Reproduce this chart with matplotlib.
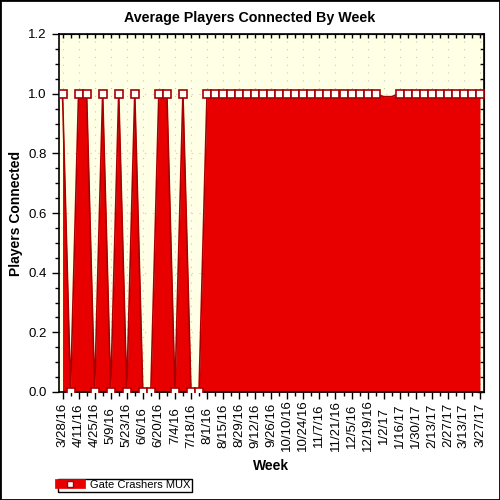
import matplotlib
matplotlib.use("Agg")
import matplotlib.pyplot as plt
from matplotlib.lines import Line2D
from matplotlib.patches import Rectangle
from matplotlib.ticker import MultipleLocator

plt.rcParams['font.family'] = ['Liberation Sans', 'DejaVu Sans']

# weekly values, 3/28/16 .. 3/27/17
weeks = list(range(53))
players = [1, 0, 1, 1, 0, 1, 0, 1, 0, 1,
           0, 0, 1, 1, 0, 1, 0, 0, 1, 1,
           1, 1, 1, 1, 1, 1, 1, 1, 1, 1,
           1, 1, 1, 1, 1, 1, 1, 1, 1, 1,
           0.99, 0.99, 1, 1, 1, 1, 1, 1, 1, 1,
           1, 1, 1]
no_marker = [40, 41]
week_labels = ['3/28/16', '4/11/16', '4/25/16', '5/9/16', '5/23/16', '6/6/16',
               '6/20/16', '7/4/16', '7/18/16', '8/1/16', '8/15/16', '8/29/16',
               '9/12/16', '9/26/16', '10/10/16', '10/24/16', '11/7/16',
               '11/21/16', '12/5/16', '12/19/16', '1/2/17', '1/16/17',
               '1/30/17', '2/13/17', '2/27/17', '3/13/17', '3/27/17']
series_name = 'Gate Crashers MUX'

fill_red = '#E80000'
dark_red = '#A80000'

fig = plt.figure(figsize=(5, 5), dpi=100)
ax = fig.add_axes([0.117, 0.216, 0.851, 0.716])
ax.set_facecolor('#FFFFE6')

ax.fill_between(weeks, 0, players, color=fill_red, linewidth=0, zorder=2)
marks = [i for i in weeks if i not in no_marker]
ax.plot(weeks, players, color=dark_red, lw=1.2, marker='s', markersize=5.8,
        markerfacecolor='white', markeredgecolor=dark_red, markeredgewidth=1.2,
        markevery=marks, zorder=3)

ax.set_xlim(-0.5, 52.5)
ax.set_ylim(0, 1.2)

ax.set_xticks(weeks[::2])
ax.set_xticklabels(week_labels, rotation=90, fontsize=9.5)
ax.xaxis.set_minor_locator(MultipleLocator(1))
ax.tick_params(axis='x', which='major', direction='out', length=5, width=1, pad=19)
ax.tick_params(axis='x', which='minor', direction='out', length=3, width=1)
for lab in ax.get_xticklabels():
    lab.set_va('center')

ax.yaxis.set_major_locator(MultipleLocator(0.2))
ax.yaxis.set_minor_locator(MultipleLocator(0.05))
ax.yaxis.set_major_formatter(matplotlib.ticker.FormatStrFormatter('%.1f'))
ax.tick_params(axis='y', which='major', direction='out', length=5, width=1, labelsize=9.5)
ax.tick_params(axis='y', which='minor', direction='out', length=3, width=1)

top = ax.secondary_xaxis('top')
top.set_xticks(weeks)
top.set_xticklabels([])
top.tick_params(direction='in', length=3, width=1)
right = ax.secondary_yaxis('right')
right.yaxis.set_major_locator(MultipleLocator(0.2))
right.yaxis.set_minor_locator(MultipleLocator(0.05))
right.set_yticklabels([])
right.tick_params(which='major', direction='in', length=5, width=1)
right.tick_params(which='minor', direction='in', length=3, width=1)

ax.grid(True, which='major', color='#c8c8c8', linestyle=(0, (1, 6)), linewidth=0.8)
ax.set_axisbelow(True)
for s in ax.spines.values():
    s.set_linewidth(1.2)

fig.text(0.5, 1 - 18 / 500, 'Average Players Connected By Week', fontsize=10.3,
         fontweight='bold', ha='center', va='center')
ax.set_xlabel('Week', fontsize=10, fontweight='bold')
ax.xaxis.set_label_coords(0.5, -0.187)
ax.set_ylabel('Players Connected', fontsize=10, fontweight='bold')
ax.yaxis.set_label_coords(-0.083, 0.5)

handle = Line2D([], [], color=fill_red, lw=7, marker='s', markersize=5,
                markerfacecolor='white', markeredgecolor=dark_red)
leg = fig.legend([handle], [series_name], loc='lower left',
                 bbox_to_anchor=(0.116, 0.016), fontsize=8, fancybox=False,
                 edgecolor='black', framealpha=1, borderpad=0.15,
                 handlelength=1.9, handletextpad=0.8, borderaxespad=0)
leg.get_frame().set_linewidth(1)

fig.add_artist(Rectangle((0, 0), 1, 1, transform=fig.transFigure, fill=False,
                         edgecolor='black', linewidth=2))

fig.savefig('out.png', dpi=100)
